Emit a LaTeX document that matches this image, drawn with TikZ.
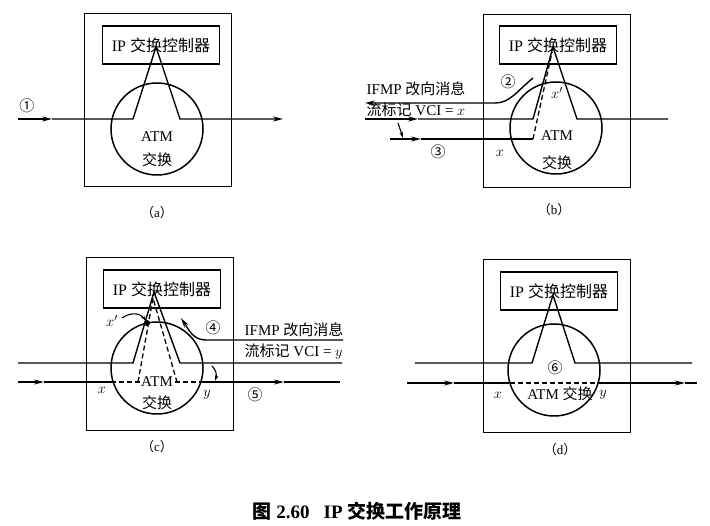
\documentclass[tikz,border=0pt]{standalone}
\usepackage{fontspec}
\setmainfont{Liberation Serif}
\newfontfamily\cjk{Noto Sans CJK SC}
\usetikzlibrary{arrows.meta}
\newcommand{\ipctl}{IP {\cjk 交换控制器}}
\newcommand{\jh}{{\cjk 交换}}
\newcommand{\sublbl}[1]{{\cjk （}#1{\cjk ）}}
\tikzset{
  frame/.style={
    rectangle, draw, line width=1.7pt, inner sep=0pt,
    minimum width=147pt, minimum height=173pt
  },
  ctrl/.style={
    rectangle, draw, line width=1.4pt, inner sep=0pt,
    minimum width=117pt, minimum height=38pt,
    font=\fontsize{16}{18}\selectfont
  },
  sw/.style={circle, draw, line width=1.5pt, inner sep=0pt, minimum size=92pt},
  vc/.style={line width=1.3pt, dash pattern=on 5pt off 3pt},
  arr/.style={-{Stealth[length=10pt,width=5pt]}, line width=1.4pt},
  tick/.style={-{Stealth[length=6pt,width=3.5pt]}, line width=1.1pt},
  lbl/.style={font=\fontsize{15}{17}\selectfont, inner sep=1pt},
  sub/.style={font=\fontsize{13}{15}\selectfont, inner sep=1pt}
}

\begin{document}
\begin{tikzpicture}[x=1pt, y=-1pt, line width=1.4pt]
  \useasboundingbox (0,0) rectangle (710,526);

  %% ---- (a) ----
  \node[frame] (fa) at (158,100) {};
  \node[ctrl] (ca) at (161,45) {\ipctl};
  \node[sw] (sa) at (157,129) {};
  \coordinate (ta) at (156,47);
  \draw[arr] (18,119) -- (52,119);
  \draw[arr] (52,119) -- (133,119) -- (ta) -- (180,119) -- (283,119);
  \node[lbl] (na) at (27,106) {\cjk ①};
  \node[lbl] (ma) at (157,137) {ATM};
  \node[lbl] (ja) at (157,160) {\jh};
  \node[sub] (la) at (157,213) {\sublbl{a}};

  %% ---- (b) ----
  \node[frame] (fb) at (557,101) {};
  \node[ctrl] (cb) at (558,45) {\ipctl};
  \node[sw] (sb) at (556,128) {};
  \coordinate (tb) at (553,47);
  \draw[arr] (365,119) -- (418,119);
  \draw (418,119) -- (533,119) -- (tb) -- (577,119) -- (668,119);
  \draw[arr] (390,139) -- (421,139);
  \draw (421,139) -- (533,139);
  \draw[vc] (533,139) -- (552,52);
  %% IFMP redirect back to the left
  \draw[arr] (533,78) .. controls (516,92) and (510,103) .. (495,103) -- (365,103);
  \draw[tick] (398,123) -- (403,138);
  \node[lbl, anchor=west] (ib) at (365,89) {IFMP {\cjk 改向消息}};
  \node[lbl, anchor=west] (vb) at (365,110) {{\cjk 流标记} VCI = $x$};
  \node[lbl] (nb2) at (508,82) {\cjk ②};
  \node[lbl] (nb3) at (438,152) {\cjk ③};
  \node[lbl] (xb) at (500,153) {$x$};
  \node[lbl] (xpb) at (557,93) {$x'$};
  \node[lbl] (mb) at (557,136) {ATM};
  \node[lbl] (jb) at (557,163) {\jh};
  \node[sub] (lb) at (554,210) {\sublbl{b}};

  %% ---- (c) ----
  \node[frame] (fc) at (160,344) {};
  \node[ctrl] (cc) at (162,289) {\ipctl};
  \node[sw] (sc) at (157,368) {};
  \coordinate (tc) at (154,292);
  \draw (18,363) -- (133,363) -- (tc) -- (180,363) -- (342,363);
  \draw[arr] (18,382) -- (44,382);
  \draw (44,382) -- (111,382);
  \draw[vc] (111,382) -- (203,382);
  \draw[arr] (203,382) -- (284,382);
  \draw (284,382) -- (340,382);
  \draw[vc] (138,382) -- (153,298) -- (177,382);
  %% x' marker on the left leg
  \fill (147,323) circle (3);
  \draw[tick] (122,318) .. controls (132,311) and (141,314) .. (146,321);
  %% IFMP redirect towards controller
  \draw[arr] (343,340) -- (206,340) .. controls (193,340) and (189,330) .. (181,318);
  \draw[tick] (212,366) .. controls (216,370) and (217,375) .. (215,381);
  \node[lbl] (xpc) at (112,321) {$x'$};
  \node[lbl] (nc4) at (213,328) {\cjk ④};
  \node[lbl, anchor=west] (ic) at (243,330) {IFMP {\cjk 改向消息}};
  \node[lbl, anchor=west] (vc) at (243,352) {{\cjk 流标记} VCI = $y$};
  \node[lbl, fill=white] (mc) at (157,382) {ATM};
  \node[lbl] (jc) at (157,403) {\jh};
  \node[lbl] (xc) at (102,390) {$x$};
  \node[lbl] (yc) at (207,395) {$y$};
  \node[lbl] (nc5) at (255,395) {\cjk ⑤};
  \node[sub] (lc) at (157,447) {\sublbl{c}};

  %% ---- (d) ----
  \node[frame] (fd) at (557,346) {};
  \node[ctrl] (cd) at (559,291) {\ipctl};
  \node[sw] (sd) at (554,370) {};
  \coordinate (td) at (553,295);
  \draw (415,363) -- (532,363) -- (td) -- (575,363) -- (692,363);
  \draw[arr] (407,383) -- (454,383);
  \draw (454,383) -- (510,383);
  \draw[vc] (510,383) -- (597,383);
  \draw[arr] (597,383) -- (685,383);
  \draw (685,383) -- (697,383);
  \node[lbl] (nd6) at (555,368) {\cjk ⑥};
  \node[lbl] (md) at (560,394) {ATM \jh};
  \node[lbl] (xd) at (498,395) {$x$};
  \node[lbl] (yd) at (603,395) {$y$};
  \node[sub] (ld) at (560,450) {\sublbl{d}};

  %% ---- caption ----
  \node[font=\fontsize{19}{22}\selectfont\bfseries] (cap) at (357,511)
    {{\cjk 图} 2.60\hspace{14pt}IP {\cjk 交换工作原理}};
\end{tikzpicture}
\end{document}
